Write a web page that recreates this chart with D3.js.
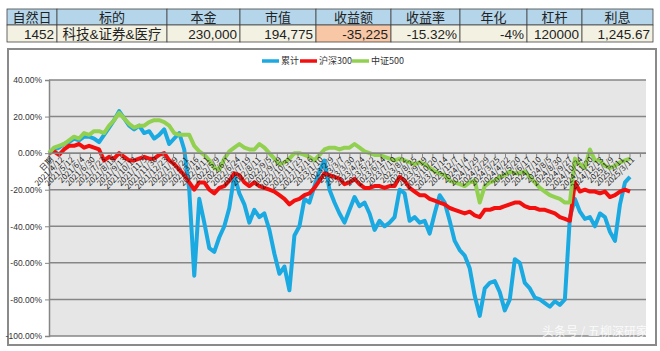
<!DOCTYPE html>
<html>
<head>
<meta charset="utf-8">
<script src="https://d3js.org/d3.v7.min.js"></script>
<style>
  body { margin: 0; background: #fff; }
  svg { font-family: "Noto Sans CJK SC", "Noto Sans", sans-serif; display: block; }
  .cell-text { font-family: "Liberation Sans", "Noto Sans CJK SC", sans-serif; font-size: 13.5px; fill: #222; }
  .axis text { font-size: 8.5px; fill: #333; }
  .legend text { font-size: 9px; fill: #333; }
  .line { fill: none; stroke-width: 4; stroke-linejoin: round; }
</style>
</head>
<body>
<div id="chart"></div>
<script>
// summary table
var headers = ["自然日", "标的", "本金", "市值", "收益额", "收益率", "年化", "杠杆", "利息"];
var rowValues = ["1452", "科技&证券&医疗", "230,000", "194,775", "-35,225", "-15.32%", "-4%", "120000", "1,245.67"];

// x axis category labels
var dateLabels = ["日期", "2021/4/12", "2021/5/12", "2021/6/4", "2021/6/30", "2021/7/23", "2021/8/18",
  "2021/9/13", "2021/10/13", "2021/11/5", "2021/11/30", "2021/12/23", "2022/1/19", "2022/2/21",
  "2022/3/16", "2022/4/11", "2022/5/9", "2022/6/1", "2022/6/24", "2022/7/19", "2022/8/11",
  "2022/9/5", "2022/9/29", "2022/10/31", "2022/11/23", "2022/12/16", "2023/1/10", "2023/2/9",
  "2023/3/7", "2023/3/30", "2023/4/24", "2023/5/22", "2023/6/14", "2023/7/10", "2023/8/2",
  "2023/8/25", "2023/9/19", "2023/10/20", "2023/11/14", "2023/12/7", "2024/1/4", "2024/1/29",
  "2024/2/29", "2024/3/25", "2024/4/22", "2024/5/20", "2024/6/17", "2024/7/10", "2024/8/5",
  "2024/8/30", "2024/9/27", "2024/10/24", "2024/11/20", "2024/12/13", "2025/1/9", "2025/2/11",
  "2025/3/11"];

var yTicks = [40, 20, 0, -20, -40, -60, -80, -100];

// series (% return), sampled evenly from the first to the last date
var leiji = [0, 2, 3, 5, 6, 8, 7, 9, 9, 8, 6, 10, 14, 18, 23, 19, 15, 13, 15, 11,
  12, 8, 10, 13, 5, 8, 11, 2, -20, -67, -25, -38, -52, -54, -46, -40, -30, -12, -22, -28,
  -38, -31, -35, -33, -42, -55, -66, -62, -75, -45, -40, -25, -27, -18, -10, -4, -20, -27, -33, -38,
  -31, -24, -29, -27, -33, -42, -37, -40, -38, -35, -20, -22, -37, -35, -38, -37, -44, -33, -23, -27,
  -37, -48, -53, -56, -63, -78, -89, -74, -71, -70, -76, -86, -80, -58, -60, -71, -74, -79, -80, -82,
  -84, -81, -83, -80, -35, -25, -32, -36, -35, -40, -33, -35, -43, -48, -28, -16, -13];

var hs300 = [0, 1, -1, 2, 4, 4, 5, 3, 4, 3, 2, -4, -2, -3, 0, -2, -4, -4, -3, -2,
  -3, -3, -1, 0, -4, -6, -9, -12, -16, -20, -16, -16, -20, -22, -19, -18, -15, -11, -12, -16,
  -18, -16, -18, -19, -20, -21, -23, -25, -28, -26, -25, -23, -22, -19, -15, -11, -12, -13, -14, -17,
  -16, -14, -17, -19, -19, -18, -18, -19, -18, -18, -13, -15, -19, -21, -23, -23, -25, -26, -27, -28,
  -30, -31, -32, -33, -32, -34, -35, -31, -31, -30, -30, -29, -28, -27, -27, -29, -30, -30, -31, -31,
  -32, -33, -35, -36, -37, -16, -21, -20, -21, -21, -22, -21, -24, -23, -21, -20, -21];

var zz500 = [0, 3, 4, 5, 7, 9, 8, 11, 10, 12, 12, 11, 15, 18, 22, 19, 16, 14, 15, 15,
  17, 18, 18, 17, 15, 11, 10, 10, 10, 4, 1, -1, -4, -8, -9, -3, 1, 3, 5, 3,
  2, 2, 5, 3, 0, -3, -6, -5, -3, 0, 0, -1, -2, -4, -1, 2, 3, 3, 2, 3,
  3, 5, 3, 1, 0, -1, -1, -2, -3, -4, -3, -4, -5, -6, -5, -6, -8, -10, -11, -12,
  -15, -16, -17, -18, -16, -15, -27, -18, -16, -15, -13, -12, -10, -11, -11, -10, -13, -16, -19, -21,
  -23, -24, -25, -27, -27, -3, -6, -8, 2, -4, -4, -7, -8, -7, -5, -4, -3];

var seriesNames = ["累计", "沪深300", "中证500"];
var seriesColors = ["#1BA9E1", "#F40F0F", "#92D050"];
var seriesData = [leiji, hs300, zz500];

var W = 660, H = 351;
var svg = d3.select("#chart").append("svg")
  .attr("width", W).attr("height", H);

/* table */
var colEdges = [7, 57, 167, 240, 316, 391, 460, 527, 582, 653];
var headTop = 9, rowMid = 25, rowBot = 42;
var headFill = "#B5D6EA", rowFill = "#F3F1E1", hiFill = "#F7C7A6";

var table = svg.append("g");
headers.forEach(function(h, i) {
  var x0 = colEdges[i], x1 = colEdges[i + 1];
  table.append("rect").attr("x", x0).attr("y", headTop).attr("width", x1 - x0).attr("height", rowMid - headTop)
    .attr("fill", headFill).attr("stroke", "#444").attr("stroke-width", 0.8);
  table.append("rect").attr("x", x0).attr("y", rowMid).attr("width", x1 - x0).attr("height", rowBot - rowMid)
    .attr("fill", i == 4 ? hiFill : rowFill).attr("stroke", "#444").attr("stroke-width", 0.8);
  table.append("text").attr("class", "cell-text")
    .attr("x", (x0 + x1) / 2).attr("y", rowMid - 3)
    .attr("text-anchor", "middle").style("font-size", "13px").text(h);
  table.append("text").attr("class", "cell-text")
    .attr("x", i == 1 ? (x0 + x1) / 2 : x1 - 3).attr("y", rowBot - 3.5)
    .attr("text-anchor", i == 1 ? "middle" : "end").text(rowValues[i]);
});

/* chart frame */
svg.append("rect").attr("x", 8).attr("y", 49).attr("width", 648).attr("height", 296)
  .attr("fill", "#fff").attr("stroke", "#8a8a8a").attr("stroke-width", 2);

var plotL = 49, plotR = 646;
var y = d3.scaleLinear().domain([-100, 40]).range([336, 80]);
var labelStep = 10.375;
var x = d3.scaleLinear().domain([0, (plotR - plotL) / labelStep]).range([plotL, plotR]);

svg.append("rect").attr("x", plotL).attr("y", y(40)).attr("width", plotR - plotL).attr("height", y(-100) - y(40))
  .attr("fill", "#E6E6E6");

// gridlines
svg.append("g").selectAll("line").data(yTicks).enter().append("line")
  .attr("x1", plotL).attr("x2", plotR)
  .attr("y1", d => y(d)).attr("y2", d => y(d))
  .attr("stroke", "#868686").attr("stroke-width", 1.5);

// y axis
var yAxis = d3.axisLeft(y).tickValues(yTicks).tickSize(4).tickPadding(3)
  .tickFormat(d => d.toFixed(2) + "%");
var yg = svg.append("g").attr("class", "axis").attr("transform", "translate(" + plotL + ",0)").call(yAxis);
yg.select(".domain").attr("stroke", "#868686").attr("stroke-width", 1.5);
yg.selectAll(".tick line").attr("stroke", "#868686");

/* lines */
var nPts = leiji.length;
var idxStep = (dateLabels.length - 1) / (nPts - 1);
var line = d3.line()
  .x((d, i) => x(i * idxStep))
  .y(d => y(d));

svg.append("g").selectAll("path").data(seriesData).enter().append("path")
  .attr("class", "line")
  .attr("d", d => line(d))
  .attr("stroke", (d, i) => seriesColors[i]);

// x axis at 0%
var tickIdx = d3.range(0, Math.floor((plotR - plotL) / labelStep) + 1);
var xg = svg.append("g").attr("class", "axis").attr("transform", "translate(0," + y(0) + ")");
xg.append("line").attr("x1", plotL).attr("x2", plotR).attr("stroke", "#868686").attr("stroke-width", 1.5);
xg.selectAll(".tk").data(tickIdx).enter().append("line").attr("class", "tk")
  .attr("x1", d => x(d)).attr("x2", d => x(d)).attr("y1", 0).attr("y2", 4)
  .attr("stroke", "#868686").attr("stroke-width", 1);
xg.selectAll(".lab").data(dateLabels).enter().append("text").attr("class", "lab")
  .attr("text-anchor", "end")
  .attr("transform", (d, i) => "translate(" + (x(i) + 3) + ",5) rotate(-45)")
  .attr("dy", "0.35em")
  .style("font-size", "8px").style("fill", "#222")
  .text(d => d);

/* legend */
var legend = svg.append("g").attr("class", "legend");
var legX = [262, 300, 352];
seriesNames.forEach(function(n, i) {
  legend.append("line").attr("x1", legX[i]).attr("x2", legX[i] + 17)
    .attr("y1", 61).attr("y2", 61).attr("stroke", seriesColors[i]).attr("stroke-width", 3.5);
  legend.append("text").attr("x", legX[i] + 19).attr("y", 64).text(n);
});

/* watermark */
svg.append("text").attr("x", 648).attr("y", 336).attr("text-anchor", "end")
  .style("font-size", "12px").attr("fill", "#fff").attr("fill-opacity", 0.85)
  .text("头条号 / 五柳深研家");
</script>
</body>
</html>
